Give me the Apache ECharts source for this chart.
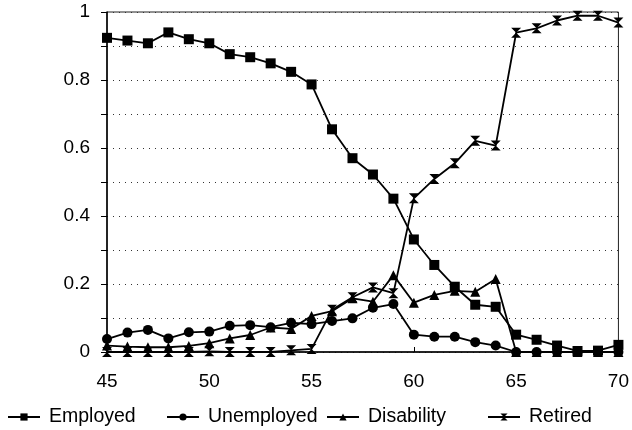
<!DOCTYPE html>
<html><head><meta charset="utf-8">
<script src="https://cdn.jsdelivr.net/npm/echarts@6/dist/echarts.min.js"></script>
<style>html,body{margin:0;padding:0;background:#fff}#c{width:632px;height:430px}</style>
</head><body><div id="c"></div>
<script>
const ages = [45,46,47,48,49,50,51,52,53,54,55,56,57,58,59,60,61,62,63,64,65,66,67,68,69,70];
const employed = [0.924,0.916,0.908,0.940,0.920,0.908,0.876,0.867,0.849,0.824,0.787,0.655,0.570,0.522,0.451,0.331,0.256,0.192,0.139,0.133,0.051,0.036,0.019,0.003,0.004,0.021];
const unemployed = [0.038,0.057,0.065,0.040,0.058,0.060,0.077,0.079,0.073,0.086,0.082,0.091,0.099,0.130,0.141,0.051,0.045,0.045,0.029,0.019,0.000,0.000,0.000,0.000,0.000,0.000];
const disability = [0.019,0.016,0.014,0.014,0.018,0.026,0.040,0.050,0.072,0.068,0.106,0.120,0.158,0.148,0.226,0.145,0.168,0.180,0.177,0.215,0.000,0.000,0.000,0.000,0.000,0.000];
const retired = [0.000,0.000,0.000,0.000,0.000,0.002,0.000,0.000,0.000,0.005,0.009,0.124,0.161,0.190,0.173,0.452,0.509,0.555,0.621,0.607,0.939,0.952,0.975,0.989,0.989,0.969];
const names = ['Employed','Unemployed','Disability','Retired'];
const symbols = ['rect','circle','triangle','path://M0,0 L10,0 L0,10 L10,10 Z'];
const values = [employed, unemployed, disability, retired];

const chart = echarts.init(document.getElementById('c'));
const font = 'Liberation Sans, Arial, sans-serif';
const legendLefts = [7, 166, 326, 487];
chart.setOption({
  animation:false,
  grid:{left:107,right:9,top:12,bottom:78,show:true,borderColor:'#222',borderWidth:1},
  xAxis:{type:'value',min:45,max:70,interval:5,
    axisLine:{lineStyle:{color:'#000',width:1.5}},
    axisTick:{show:true,inside:true,length:5,lineStyle:{color:'#000'}},
    splitLine:{show:false},
    axisLabel:{color:'#000',fontSize:19,fontFamily:font,margin:20}},
  yAxis:{type:'value',min:0,max:1,interval:0.1,
    axisLine:{show:true,lineStyle:{color:'#000',width:1.5}},
    axisTick:{show:true,length:6,lineStyle:{color:'#000'}},
    splitLine:{show:true,lineStyle:{type:[1,5],color:'#333',width:1}},
    axisLabel:{color:'#000',fontSize:19,fontFamily:font,margin:17,
      formatter:v=>{const k=Math.round(v*10);return k%2===0?String(k/10):'';}}},
  legend: names.map((n,i)=>({data:[n],left:legendLefts[i],top:407,padding:0,itemWidth:32,itemHeight:9,itemGap:6,
    textStyle:{color:'#000',fontSize:19.5,fontFamily:font,padding:[0,0,0,4]}})),
  series: names.map((n,i)=>({name:n,type:'line',data:ages.map((a,j)=>[a,values[i][j]]),
    symbol:symbols[i],symbolSize:10,showAllSymbol:true,
    lineStyle:{color:'#000',width:1.8},itemStyle:{color:'#000'}}))
});
</script></body></html>
